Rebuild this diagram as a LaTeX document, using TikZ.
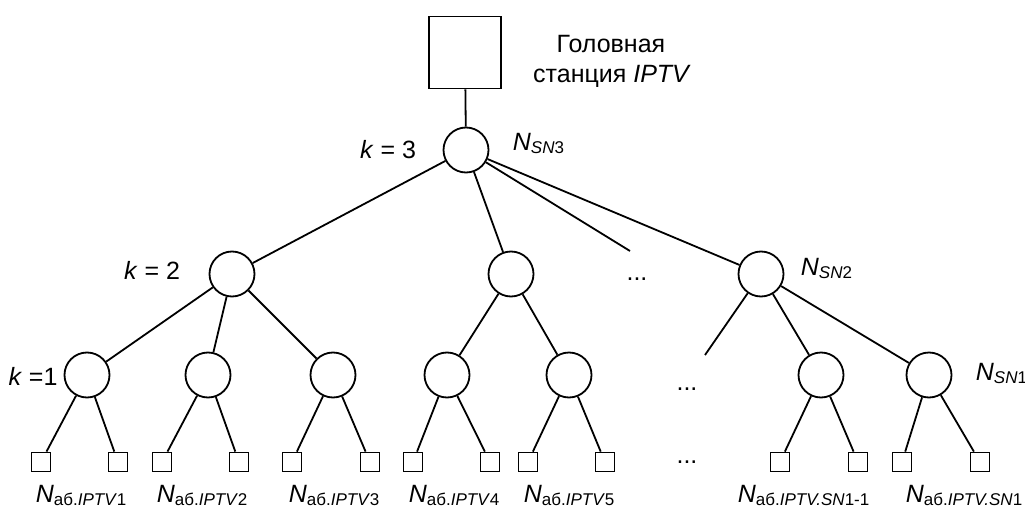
\documentclass[tikz,border=0pt]{standalone}
\usepackage{fontspec}
\setmainfont{Liberation Sans}
% label N with a lowered, smaller index
\newcommand\Nlab[1]{\textit{N}\raisebox{-3.5pt}{\fontsize{17}{17}\selectfont #1}}
\begin{document}
\begin{tikzpicture}[x=1pt,y=-1pt,line width=1.8pt,
  hub/.style={draw,circle,minimum size=45pt,inner sep=0pt},
  head/.style={draw,rectangle,minimum size=72pt,inner sep=0pt},
  user/.style={draw,rectangle,minimum size=19pt,inner sep=0pt},
  txt/.style={font=\fontsize{25}{30}\selectfont,inner sep=0pt}]
\useasboundingbox (0,0) rectangle (1025,508);

% head station and switching nodes
\node[head] (hs) at (465,52.5) {};
\node[hub] (r) at (466,150) {};
\node[hub] (a) at (232,274) {};
\node[hub] (b) at (511,274) {};
\node[hub] (c) at (761,274) {};
\coordinate (rs) at (630,251);
\coordinate (cs) at (705,355);

\foreach \n/\x in {1/87,2/208,3/333,4/447,5/569,6/821,7/929}
  \node[hub] (l\n) at (\x,375) {};

\foreach \n/\x in {1/41,2/118,3/162,4/239,5/292,6/370,7/413,8/490,9/528,10/605,11/780,12/858,13/902,14/980}
  \node[user] (u\n) at (\x,462) {};

% links
\draw (hs) -- (r);
\draw (r) -- (a);
\draw (r) -- (b);
\draw (r) -- (rs);
\draw (r) -- (c);
\draw (a) -- (l1);
\draw (a) -- (l2);
\draw (a) -- (l3);
\draw (b) -- (l4);
\draw (b) -- (l5);
\draw (c) -- (cs);
\draw (c) -- (l6);
\draw (c) -- (l7);
\foreach \n [evaluate=\n as \p using int(2*\n-1), evaluate=\n as \q using int(2*\n)] in {1,...,7}{
  \draw (l\n) -- (u\p);
  \draw (l\n) -- (u\q);
}

% texts
\node[txt,anchor=base] (t1) at (611,53) {Головная};
\node[txt,anchor=base] (t2) at (612,83) {станция \textit{IPTV}};
\node[txt,anchor=base] (k3) at (388,158) {\textit{k} = 3};
\node[txt,anchor=base] (k2) at (152,279) {\textit{k} = 2};
\node[txt,anchor=base] (k1) at (33,385) {\textit{k} =1};
\node[txt,anchor=base west] (n3) at (512,150) {\Nlab{\textit{SN}3}};
\node[txt,anchor=base west] (n2) at (800,275) {\Nlab{\textit{SN}2}};
\node[txt,anchor=base west] (n1) at (975,380) {\Nlab{\textit{SN}1}};

\node[txt,anchor=base] (d2) at (637,280) {...};
\node[txt,anchor=base] (d1) at (687,390) {...};
\node[txt,anchor=base] (d0) at (687,463) {...};

\node[txt,anchor=base west] (a1) at (35,502) {\Nlab{аб.\textit{IPTV}1}};
\node[txt,anchor=base west] (a2) at (156,502) {\Nlab{аб.\textit{IPTV}2}};
\node[txt,anchor=base west] (a3) at (288,502) {\Nlab{аб.\textit{IPTV}3}};
\node[txt,anchor=base west] (a4) at (408,502) {\Nlab{аб.\textit{IPTV}4}};
\node[txt,anchor=base west] (a5) at (523,502) {\Nlab{аб.\textit{IPTV}5}};
\node[txt,anchor=base west] (a6) at (737,502) {\Nlab{аб.\textit{IPTV.SN}1-1}};
\node[txt,anchor=base west] (a7) at (905,502) {\Nlab{аб.\textit{IPTV.SN}1}};
\end{tikzpicture}
\end{document}
